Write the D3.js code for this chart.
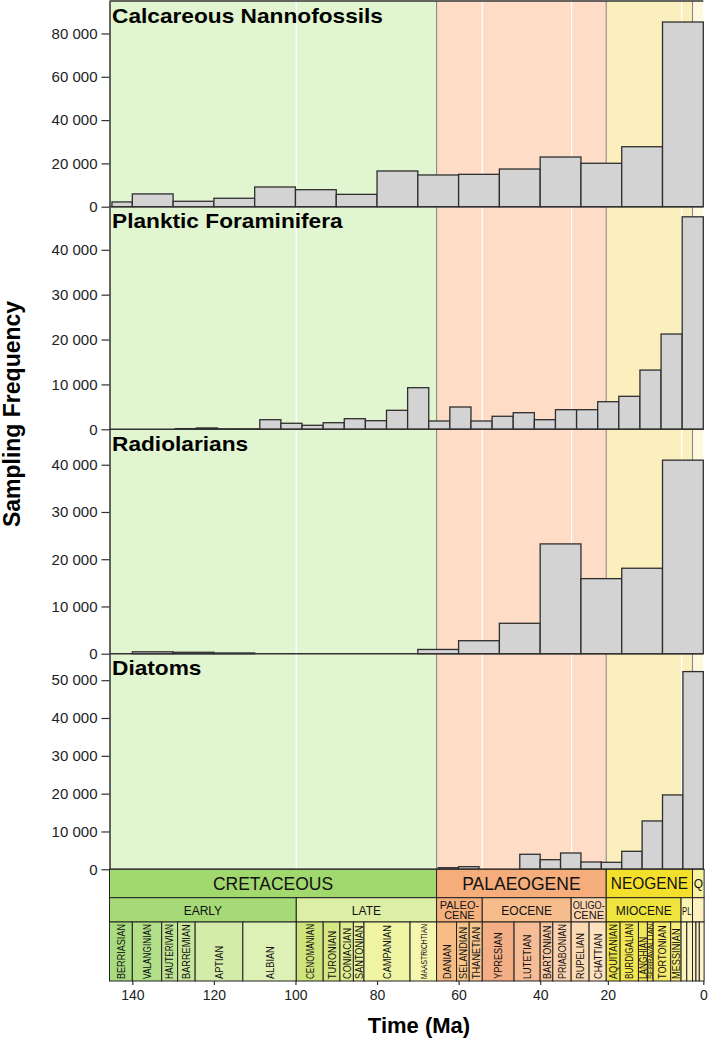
<!DOCTYPE html>
<html><head><meta charset="utf-8">
<script src="https://cdn.jsdelivr.net/npm/d3@7"></script>
<style>
body{margin:0;background:#fff}
svg{display:block}
text{font-family:"Liberation Sans",Arial,sans-serif}
</style>
</head><body>
<svg id="c" width="709" height="1042"></svg>
<script>
// ---------------- DATA ----------------
// Histogram bins (Ma, old -> young) and sampling counts
const nannoEdges = [145,140,130,120,110,100,90,80,70,60,50,40,30,20,10,0];
const nannoCounts = [2200,5900,2500,3900,9100,7850,5700,16500,14650,14950,17400,22950,20050,27700,85300];

const foramEdges = d3.range(29).map(i => 145 - i * 145 / 28); // 28 equal bins over 145-0 Ma
const foramCounts = [0,0,0,150,300,100,100,2140,1340,890,1470,2360,1920,4230,9270,1850,4970,1850,2900,3700,2140,4370,4370,6150,7350,13200,21230,47350];

const radioEdges = [145,140,130,120,110,100,90,80,70,60,50,40,30,20,10,0];
const radioCounts = [0,400,300,150,0,0,0,0,900,2750,6440,23240,15890,18090,40970];

const diatomEdges = [65,60,55,50,45,40,35,30,25,20,15,10,5,0];
const diatomCounts = [420,690,0,0,3970,2540,4310,1930,1850,4760,12780,19660,52270];

const panelTitles = ["Calcareous Nannofossils","Planktic Foraminifera","Radiolarians","Diatoms"];
const nannoTicks = [0,20000,40000,60000,80000];
const foramTicks = [0,10000,20000,30000,40000];
const radioTicks = [0,10000,20000,30000,40000];
const diatomTicks = [0,10000,20000,30000,40000,50000];
const yMax = [95000,49600,47500,57000];

// time-axis tick labels and the ages at which they are drawn in the figure
const timeTickLabels = ["140","120","100","80","60","40","20","0"];
const timeTickAt = [140,120,100,80,60,40,23.4,0];

// Geological time scale (boundaries in Ma as drawn)
const periods = [["CRETACEOUS",145.6,65.4],["PALAEOGENE",65.4,23.8],["NEOGENE",23.8,2.65],["Q",2.65,-0.2]];
const epochs = [["EARLY",145.6,99.8],["LATE",99.8,65.4],["PALEO-|CENE",65.4,54.2],["EOCENE",54.2,32.4],
  ["OLIGO-|CENE",32.4,23.8],["MIOCENE",23.8,5.45],["PL",5.45,2.65],["",2.65,-0.2]];
const stages = [["BERRIASIAN",145.6,140.0],["VALANGINIAN",140.0,132.8],["HAUTERIVIAN",132.8,128.9],
  ["BARREMIAN",128.9,124.6],["APTIAN",124.6,112.9],["ALBIAN",112.9,99.8],["CENOMANIAN",99.8,93.2],
  ["TURONIAN",93.2,89.1],["CONIACIAN",89.1,85.8],["SANTONIAN",85.8,83.2],["CAMPANIAN",83.2,71.9],
  ["MAASTRICHTIAN",71.9,65.4],["DANIAN",65.4,60.5],["SELANDIAN",60.5,57.4],["THANETIAN",57.4,54.2],
  ["YPRESIAN",54.2,46.4],["LUTETIAN",46.4,40.0],["BARTONIAN",40.0,36.9],["PRIABONIAN",36.9,32.4],
  ["RUPELIAN",32.4,28.0],["CHATTIAN",28.0,23.8],["AQUITANIAN",23.8,20.4],["BURDIGALIAN",20.4,15.9],
  ["LANGHIAN",15.9,13.7],["SERRAVALLIAN",13.7,12.3],["TORTONIAN",12.3,8.0],["MESSINIAN",8.0,5.45],
  ["ZANCLEAN",5.45,4.05],["PIACENZIAN",4.05,2.65],["GELASIAN",2.65,1.8],["CALABRIAN",1.8,0.98],["CHIBANIAN",0.98,-0.2]];
const epochLines = [99.8,54.2,32.3,5.3];
const periodLines = [65.4,23.8,2.65];

// ---------------- STYLES ----------------
const bandColor = {"CRETACEOUS":"#e1f5d0","PALAEOGENE":"#fedcc6","NEOGENE":"#fcefbe","Q":"#fef8de"};
const periodColor = {"CRETACEOUS":"#a2d96f","PALAEOGENE":"#f4ad7b","NEOGENE":"#f4df2d","Q":"#f8f1a0"};
const periodFont = {"CRETACEOUS":17.5,"PALAEOGENE":17.5,"NEOGENE":16,"Q":12.5};
const epochColor = {"EARLY":"#a6da76","LATE":"#ddefa4","PALEO-|CENE":"#f5b07e","EOCENE":"#f7bc8c",
  "OLIGO-|CENE":"#fad3ad","MIOCENE":"#efe43e","PL":"#fbf3b3","":"#fdf1c0"};
const stageColor = {"BERRIASIAN":"#a9dc80","VALANGINIAN":"#b2df88","HAUTERIVIAN":"#bee393","BARREMIAN":"#c8e79d",
  "APTIAN":"#d4eca9","ALBIAN":"#ddf1b7","CENOMANIAN":"#cfe47c","TURONIAN":"#d6e884","CONIACIAN":"#dded8f",
  "SANTONIAN":"#e6f199","CAMPANIAN":"#eff4a3","MAASTRICHTIAN":"#f5f7ae","DANIAN":"#f7bd84","SELANDIAN":"#f8c589",
  "THANETIAN":"#f8c68f","YPRESIAN":"#f4ae86","LUTETIAN":"#f6bc95","BARTONIAN":"#f8c7a2","PRIABONIAN":"#f9d1af",
  "RUPELIAN":"#fbd9b1","CHATTIAN":"#fce2bf","AQUITANIAN":"#eee44b","BURDIGALIAN":"#f1e653","LANGHIAN":"#f1e65a",
  "SERRAVALLIAN":"#f3e862","TORTONIAN":"#f5ea6c","MESSINIAN":"#f7ed7a","ZANCLEAN":"#fbf3b8","PIACENZIAN":"#fcf4c0",
  "GELASIAN":"#fdeebb","CALABRIAN":"#fdf1c2","CHIBANIAN":"#fdf2ca"};
const smallStages = new Set(["ZANCLEAN","PIACENZIAN","GELASIAN","CALABRIAN","CHIBANIAN"]);

// ---------------- LAYOUT ----------------
const svg = d3.select("#c");
const x = d3.scaleLinear().domain([145.6, 0]).range([109.5, 703.3]);
const panelTop = [1, 206.7, 429.3, 653.7];
const panelBottom = [206.7, 429.3, 653.7, 869.3];
const chartTop = panelTop[0], chartBottom = panelBottom[3];
const tsPeriod = [869.3, 897.7], tsEpoch = [897.7, 922], tsStage = [922, 981];
const fmt = v => d3.format(",")(v).replace(/,/g, " ");

// background bands
svg.append("g").selectAll("rect").data(periods).join("rect")
  .attr("x", d => x(d[1])).attr("width", d => x(Math.max(d[2],0)) - x(d[1]))
  .attr("y", chartTop).attr("height", chartBottom - chartTop)
  .attr("fill", d => bandColor[d[0]]);
svg.append("g").selectAll("line").data(epochLines).join("line")
  .attr("x1", d => x(d)).attr("x2", d => x(d)).attr("y1", chartTop).attr("y2", chartBottom)
  .attr("stroke", "#ffffff").attr("stroke-width", 1.3);
svg.append("g").selectAll("line").data(periodLines).join("line")
  .attr("x1", d => x(d)).attr("x2", d => x(d)).attr("y1", chartTop).attr("y2", chartBottom)
  .attr("stroke", "#8a8a8a").attr("stroke-width", 1.1);

const series = [
  {edges: nannoEdges, counts: nannoCounts, ticks: nannoTicks},
  {edges: foramEdges, counts: foramCounts, ticks: foramTicks},
  {edges: radioEdges, counts: radioCounts, ticks: radioTicks},
  {edges: diatomEdges, counts: diatomCounts, ticks: diatomTicks}
];

series.forEach((s, p) => {
  const y = d3.scaleLinear().domain([0, yMax[p]]).range([panelBottom[p], panelTop[p]]);
  const bins = s.counts.map((c, i) => ({x0: s.edges[i], x1: s.edges[i+1], c})).filter(b => b.c > 0);
  svg.append("g").selectAll("rect").data(bins).join("rect")
    .attr("x", b => x(b.x0)).attr("width", b => x(b.x1) - x(b.x0))
    .attr("y", b => y(b.c)).attr("height", b => y(0) - y(b.c))
    .attr("fill", "#d3d3d3").attr("stroke", "#2e2e2e").attr("stroke-width", 1.3);
  // zero line
  svg.append("line").attr("x1", x.range()[0]).attr("x2", x.range()[1])
    .attr("y1", y(0)).attr("y2", y(0)).attr("stroke", "#333").attr("stroke-width", 1.5);
  // y axis
  const ax = svg.append("g").attr("transform", `translate(${x.range()[0]},0)`)
    .call(d3.axisLeft(y).tickValues(s.ticks).tickFormat(fmt).tickSize(8).tickSizeOuter(0).tickPadding(4));
  ax.select(".domain").attr("stroke", "#333").attr("stroke-width", 1.5);
  ax.selectAll(".tick line").attr("stroke", "#333").attr("stroke-width", 1.2);
  ax.selectAll(".tick text").attr("font-size", 15).attr("fill", "#222")
    .attr("font-family", '"Liberation Sans",Arial,sans-serif');
  // title
  const t = svg.append("text").attr("x", 112).attr("y", panelTop[p] + 21.5)
    .attr("font-size", 21).attr("font-weight", "bold").attr("fill", "#000")
    .text(panelTitles[p]);
  const L = t.node().getComputedTextLength();
  t.attr("textLength", L * 1.08).attr("lengthAdjust", "spacingAndGlyphs");
});

// top border
svg.append("line").attr("x1", x.range()[0]).attr("x2", x.range()[1])
  .attr("y1", chartTop).attr("y2", chartTop).attr("stroke", "#333").attr("stroke-width", 1.5);

// ---------------- TIME SCALE ----------------
function fitText(t, maxW) {
  const len = t.node().getComputedTextLength();
  if (len > maxW) t.attr("textLength", maxW).attr("lengthAdjust", "spacingAndGlyphs");
}
const ts = svg.append("g");
// periods
periods.forEach(d => {
  const x0 = x(d[1]), x1 = x(d[2]), w = x1 - x0;
  ts.append("rect").attr("x", x0).attr("y", tsPeriod[0]).attr("width", w).attr("height", tsPeriod[1]-tsPeriod[0])
    .attr("fill", periodColor[d[0]]).attr("stroke", "#222").attr("stroke-width", 1);
  const fs = periodFont[d[0]];
  const t = ts.append("text").attr("x", (x0+x1)/2).attr("y", (tsPeriod[0]+tsPeriod[1])/2 + 0.358*fs)
    .attr("text-anchor", "middle").attr("font-size", fs).attr("fill", "#111").text(d[0]);
  fitText(t, w - Math.min(9, w*0.2));
});
// epochs
epochs.forEach(d => {
  const x0 = x(d[1]), x1 = x(d[2]), w = x1 - x0;
  ts.append("rect").attr("x", x0).attr("y", tsEpoch[0]).attr("width", w).attr("height", tsEpoch[1]-tsEpoch[0])
    .attr("fill", epochColor[d[0]]).attr("stroke", "#222").attr("stroke-width", 1);
  const cy = (tsEpoch[0]+tsEpoch[1])/2;
  const parts = d[0].split("|");
  if (parts.length === 1) {
    if (!d[0]) return;
    const fs = d[0] === "PL" ? 11 : 12;
    const t = ts.append("text").attr("x", (x0+x1)/2).attr("y", cy + 0.358*fs + 1)
      .attr("text-anchor", "middle").attr("font-size", fs).attr("fill", "#111").text(d[0]);
    fitText(t, w - 2);
  } else {
    parts.forEach((pt, i) => {
      const t = ts.append("text").attr("x", (x0+x1)/2).attr("y", cy - 1 + i*10.4)
        .attr("text-anchor", "middle").attr("font-size", 11).attr("fill", "#111").text(pt);
      fitText(t, w - 3);
    });
  }
});
// stages
stages.forEach(d => {
  const x0 = x(d[1]), x1 = x(d[2]), w = x1 - x0;
  ts.append("rect").attr("x", x0).attr("y", tsStage[0]).attr("width", w).attr("height", tsStage[1]-tsStage[0])
    .attr("fill", stageColor[d[0]]).attr("stroke", "#222").attr("stroke-width", 1);
  if (smallStages.has(d[0])) return;
  const cx = (x0+x1)/2;
  const maxLen = 55;
  let fs = Math.min(11.5, w * 1.15);
  const t = ts.append("text").attr("font-size", fs).attr("fill", "#111").text(d[0]);
  let L = t.node().getComputedTextLength() * 0.8;
  if (L > maxLen && w >= 8) {
    fs = fs * Math.pow(maxLen / L, 0.7);
    t.attr("font-size", fs);
    L = Math.min(maxLen, t.node().getComputedTextLength() * 0.8);
  }
  if (w < 8) L = maxLen;
  L = Math.min(L, maxLen);
  t.attr("textLength", L).attr("lengthAdjust", "spacingAndGlyphs")
   .attr("transform", `translate(${cx + 0.358*fs},${tsStage[1]-2}) rotate(-90)`);
});

// x axis
const xa = svg.append("g").attr("transform", `translate(0,${tsStage[1]})`)
  .call(d3.axisBottom(x).tickValues(timeTickAt).tickFormat((d, i) => timeTickLabels[i])
    .tickSize(4).tickSizeOuter(0).tickPadding(5));
xa.select(".domain").remove();
xa.selectAll(".tick line").attr("stroke", "#333").attr("stroke-width", 1.2);
xa.selectAll(".tick text").attr("font-size", 14).attr("fill", "#222")
  .attr("font-family", '"Liberation Sans",Arial,sans-serif');

// axis titles
svg.append("text").attr("x", 419).attr("y", 1033).attr("text-anchor", "middle")
  .attr("font-size", 22).attr("font-weight", "bold").attr("fill", "#000").text("Time (Ma)");
svg.append("text").attr("transform", "translate(19.5,414) rotate(-90)").attr("text-anchor", "middle")
  .attr("font-size", 23).attr("font-weight", "bold").attr("fill", "#000").text("Sampling Frequency");
</script>
</body></html>
